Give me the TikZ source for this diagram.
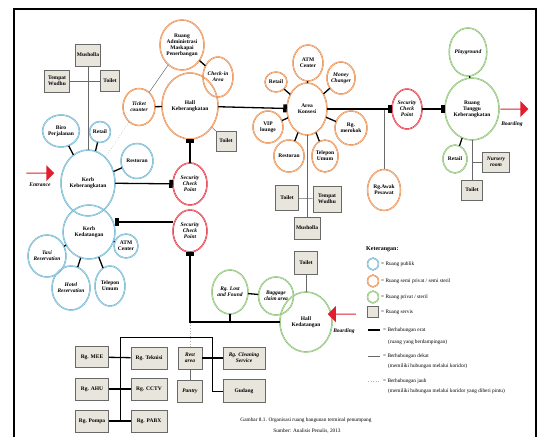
\documentclass[tikz,border=0pt]{standalone}
\usepackage{fontspec}
\setmainfont{Liberation Serif}
\usepackage{tikz}
\usetikzlibrary{arrows.meta,shapes,calc,positioning}
\definecolor{biru}{RGB}{95,175,205}
\definecolor{oranye}{RGB}{232,128,58}
\definecolor{hijau}{RGB}{125,188,98}
\definecolor{merah}{RGB}{225,30,45}
\definecolor{abuKotak}{RGB}{232,229,221}
\definecolor{abuGaris}{RGB}{105,105,105}
\tikzstyle{ruang}=[ellipse, line width=0.5pt, double distance=0.45pt,
                   inner sep=0pt, align=center,
                   font=\fontsize{5.5}{6}\selectfont\bfseries]
\tikzstyle{publik}=[ruang, draw=biru, double=biru!35]
\tikzstyle{semiprivat}=[ruang, draw=oranye, double=oranye!35]
\tikzstyle{privat}=[ruang, draw=hijau, double=hijau!35]
\tikzstyle{keamanan}=[ruang, draw=merah, double=merah!35,
                      font=\fontsize{5.5}{6}\selectfont\bfseries\itshape]
\tikzstyle{ing}=[font=\fontsize{5.5}{6}\selectfont\bfseries\itshape]
\tikzstyle{servis}=[rectangle, draw=abuGaris, fill=abuKotak, line width=0.6pt,
                    inner sep=0pt, align=center,
                    font=\fontsize{5.5}{6}\selectfont\bfseries]
\tikzstyle{erat}=[line width=1.3pt]
\tikzstyle{sedang}=[line width=0.8pt]
\tikzstyle{dekat}=[abuGaris, line width=0.5pt]
\tikzstyle{jauh}=[gray!60, dotted, line width=0.6pt]
\tikzstyle{alur}=[erat, -{Square[length=3.5pt,width=8pt]}]
\tikzstyle{panah}=[single arrow, fill=merah, draw=none, inner sep=0pt,
                   minimum height=28pt, minimum width=16pt,
                   single arrow head extend=3pt]
\tikzstyle{teks}=[inner sep=0pt, anchor=west, font=\fontsize{5.3}{6}\selectfont]

\begin{document}
\begin{tikzpicture}[x=1pt,y=-1pt]
    \useasboundingbox (0,0) rectangle (540,437);
    \draw[line width=1.8pt] (14,437) -- (14,9) -- (536,9) -- (536,437);

    % kerb keberangkatan / kedatangan
    \draw (88,55) node (mushA) [servis, minimum width=25, minimum height=22] {Musholla};
    \draw (57,81) node (wudhuA) [servis, minimum width=25, minimum height=22] {Tempat\\Wudhu};
    \draw (110,81) node (toiletA) [servis, minimum width=19, minimum height=21] {Toilet};
    \draw (61,131) node (biro) [publik, minimum width=34, minimum height=32] {Biro\\Perjalanan};
    \draw (100,132) node (retailA) [publik, minimum width=21, minimum height=21] {Retail};
    \draw (137,161) node (restoA) [publik, minimum width=32, minimum height=35] {Restoran};
    \draw (88,183) node (kerbB) [publik, minimum width=54, minimum height=66] {Kerb\\Keberangkatan};
    \draw (89,232) node (kerbD) [publik, minimum width=52, minimum height=54] {Kerb\\Kedatangan};
    \draw (47,256) node (taxi) [publik, ing, minimum width=36, minimum height=42] {Taxi\\Reservation};
    \draw (71,288) node (hotel) [publik, ing, minimum width=36, minimum height=44] {Hotel\\Reservation};
    \draw (110,286) node (telpA) [publik, minimum width=30, minimum height=40] {Telepon\\Umum};
    \draw (126,246) node (atmA) [publik, minimum width=24, minimum height=24] {ATM\\Center};

    % hall keberangkatan
    \draw (139,107) node (ticket) [semiprivat, ing, minimum width=32, minimum height=37] {Ticket\\counter};
    \draw (182,45) node (admin) [semiprivat, minimum width=40, minimum height=50] {Ruang\\Administrasi\\Maskapai\\Penerbangan};
    \draw (190,106) node (hallB) [semiprivat, minimum width=56, minimum height=66] {Hall\\Keberangkatan};
    \draw (218,77) node (checkin) [semiprivat, ing, minimum width=30, minimum height=40] {Check-in\\Area};
    \draw (226,141) node (toiletB) [servis, minimum width=20, minimum height=20] {Toilet};
    \draw (190,184) node (sec1) [keamanan, minimum width=34, minimum height=42] {Security\\Check\\Point};
    \draw (190,231) node (sec2) [keamanan, minimum width=34, minimum height=42] {Security\\Check\\Point};

    % area konsesi
    \draw (307,109) node (konsesi) [semiprivat, minimum width=40, minimum height=52] {Area\\Konsesi};
    \draw (308,63) node (atmB) [semiprivat, minimum width=30, minimum height=36] {ATM\\Center};
    \draw (276,82) node (retailB) [semiprivat, minimum width=22, minimum height=20] {Retail};
    \draw (341,78) node (money) [semiprivat, ing, minimum width=28, minimum height=32] {Money\\Changer};
    \draw (268,127) node (vip) [semiprivat, minimum width=30, minimum height=32] {VIP\\lounge};
    \draw (351,128) node (merokok) [semiprivat, minimum width=32, minimum height=34] {Rg.\\merokok};
    \draw (289,156) node (restoB) [semiprivat, minimum width=30, minimum height=32] {Restoran};
    \draw (325,156) node (telpB) [semiprivat, minimum width=26, minimum height=32] {Telepon\\Umum};
    \draw (287,198) node (toiletC) [servis, minimum width=23, minimum height=25] {Toilet};
    \draw (327,199) node (wudhuB) [servis, minimum width=28, minimum height=26] {Tempat\\Wudhu};
    \draw (307,228) node (mushB) [servis, minimum width=26, minimum height=22] {Musholla};
    \draw (384,190) node (awak) [semiprivat, minimum width=33, minimum height=41] {Rg.Awak\\Pesawat};
    \draw (407,109) node (sec3) [keamanan, minimum width=30, minimum height=40] {Security\\Check\\Point};

    % ruang tunggu
    \draw (472,109) node (tunggu) [privat, minimum width=54, minimum height=62] {Ruang\\Tunggu\\Keberangkatan};
    \draw (468,52) node (play) [privat, ing, minimum width=30, minimum height=48] {Playground};
    \draw (455,159) node (retailC) [privat, minimum width=24, minimum height=28] {Retail};
    \draw (472,190) node (toiletD) [servis, minimum width=21, minimum height=20] {Toilet};
    \draw (496,162) node (nursery) [servis, ing, minimum width=27, minimum height=20] {Nursery\\room};

    % hall kedatangan
    \draw (230,292) node (lost) [privat, ing, minimum width=36, minimum height=44] {Rg. Lost\\and Found};
    \draw (276,296) node (bagasi) [privat, ing, minimum width=35, minimum height=38] {Baggage\\claim area};
    \draw (306,322) node (hallD) [privat, minimum width=52, minimum height=60] {Hall\\Kedatangan};
    \draw (306,263) node (toiletE) [servis, minimum width=23, minimum height=23] {Toilet};

    % ruang servis
    \draw (92,357) node (mee) [servis, minimum width=33, minimum height=21] {Rg. MEE};
    \draw (149,358) node (teknisi) [servis, minimum width=36, minimum height=22] {Rg. Teknisi};
    \draw (92,389) node (ahu) [servis, minimum width=33, minimum height=22] {Rg. AHU};
    \draw (149,389) node (cctv) [servis, minimum width=36, minimum height=22] {Rg. CCTV};
    \draw (92,421) node (pompa) [servis, minimum width=33, minimum height=22] {Rg. Pompa};
    \draw (149,421) node (pabx) [servis, minimum width=36, minimum height=22] {Rg. PABX};
    \draw (190,358) node (rest) [servis, ing, minimum width=24, minimum height=22] {Rest\\area};
    \draw (190,391) node (pantry) [servis, ing, minimum width=25, minimum height=22] {Pantry};
    \draw (244,358) node (cleaning) [servis, ing, minimum width=42, minimum height=22] {Rg. Cleaning\\Service};
    \draw (244,391) node (gudang) [servis, minimum width=42, minimum height=23] {Gudang};
    \coordinate (sudutA) at (120,337);
    \coordinate (sudutB) at (212,337);

    % hubungan
    \foreach \i/\j in {biro/kerbB,retailA/kerbB,restoA/kerbB,kerbD/taxi,kerbD/hotel,
    kerbD/telpA,kerbD/atmA,ticket/hallB,admin/checkin,konsesi/atmB,konsesi/retailB,
    konsesi/money,konsesi/vip,konsesi/merokok,konsesi/restoB,konsesi/telpB,
    tunggu/play,tunggu/retailC,lost/bagasi,mee/teknisi,ahu/cctv,pompa/pabx,
    rest/cleaning}
        \draw [erat] (\i) -- (\j);
    \foreach \i/\j in {mushA/kerbB,wudhuA/toiletA,ticket/admin,hallB/toiletB,
    konsesi/mushB,toiletC/wudhuB,tunggu/toiletD,toiletE/hallD}
        \draw [dekat] (\i) -- (\j);
    \draw [dekat] (awak) -- (awak |- sec3);
    \draw [dekat] (nursery) -- (nursery -| tunggu);
    \draw [sedang] (sudutA) -- (sudutB);
    \draw [sedang] (sudutA) -- (sudutA |- pompa);
    \draw [sedang] (sudutB) |- (gudang);
    \draw [sedang, abuGaris] (rest) -- (pantry);
    \draw [jauh] (kerbB) -- (ticket);
    \draw [jauh] (rest) -- (rest |- hallD.west);
    \draw [erat] (lost) -- (lost |- hallD.west);

    \foreach \i/\j in {kerbB/sec1,sec1/hallB,hallB/konsesi,konsesi/sec3,sec3/tunggu}
        \draw [alur] (\i) -- (\j);
    \draw [alur] ([yshift=9pt]sec2.west) -- ([yshift=9pt]sec2.west -| kerbD.east);
    \draw [alur] (hallD.west) -| (sec2.south);

    % pintu masuk / keluar
    \node (masuk) [panah] at (40,173) {};
    \node (berangkat) [panah] at (514,109) {};
    \node (datang) [panah, shape border rotate=180] at (342,314) {};
    \node (lblMasuk) [ing] at (40,185) {Entrance};
    \node (lblBerangkat) [ing] at (512,124) {Boarding};
    \node (lblDatang) [ing] at (344,331) {Boarding};

    % keterangan
    \node (ket) [teks, font=\fontsize{6}{7}\selectfont\bfseries] at (366,249) {Keterangan:};
    \draw (373,264) node (kPublik) [publik, minimum width=11, minimum height=12] {};
    \draw (373,281) node (kSemi) [semiprivat, minimum width=11, minimum height=12] {};
    \draw (373,297) node (kPrivat) [privat, minimum width=11, minimum height=12] {};
    \draw (373,312) node (kServis) [servis, minimum width=11, minimum height=11] {};
    \node [teks] at (381,264) {= Ruang publik};
    \node [teks] at (381,281) {= Ruang semi privat / semi steril};
    \node [teks] at (381,297) {= Ruang privat / steril};
    \node [teks] at (381,312) {= Ruang servis};
    \draw [erat] (368,330) -- (380,330);
    \draw [dekat] (368,356) -- (380,356);
    \draw [jauh] (368,381) -- (380,381);
    \node [teks] at (383,330) {= Berhubungan erat};
    \node [teks] at (388,342) {(ruang yang berdampingan)};
    \node [teks] at (383,356) {= Berhubungan dekat};
    \node [teks] at (388,366) {(memiliki hubungan melalui koridor)};
    \node [teks] at (383,381) {= Berhubungan jauh};
    \node [teks] at (388,391) {(memiliki hubungan melalui koridor yang diberi pintu)};

    \node (judul) [teks, anchor=center] at (306,420) {Gambar 8.1. Organisasi ruang bangunan terminal penumpang};
    \node (sumber) [teks, anchor=center] at (307,431) {Sumber: Analisis Penulis, 2013};
\end{tikzpicture}
\end{document}
